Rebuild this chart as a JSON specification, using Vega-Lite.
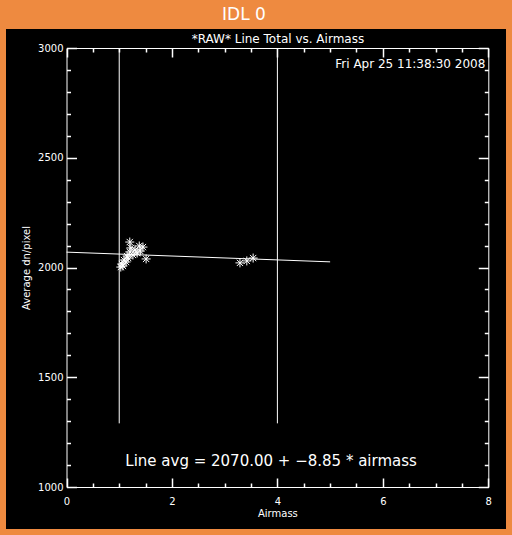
{
  "$schema": "https://vega.github.io/schema/vega-lite/v6.json",
  "width": 500,
  "height": 500,
  "autosize": "none",
  "padding": {"left": 6, "top": 29, "right": 6, "bottom": 6},
  "background": "#EE8A40",
  "config": {
    "view": {"fill": "black", "stroke": null},
    "font": "DejaVu Sans",
    "axis": {
      "grid": false,
      "domainColor": "white",
      "tickColor": "white",
      "labelColor": "white",
      "titleColor": "white",
      "domainWidth": 1,
      "tickWidth": 1.5,
      "labelFont": "DejaVu Sans",
      "titleFont": "DejaVu Sans",
      "labelFontSize": 10,
      "titleFontSize": 10,
      "titleFontWeight": "normal",
      "labelFlush": false,
      "labelOverlap": false
    }
  },
  "title": {
    "text": "IDL 0",
    "color": "white",
    "fontSize": 17,
    "fontWeight": "normal",
    "font": "DejaVu Sans",
    "anchor": "middle",
    "frame": "group",
    "offset": 5,
    "dx": -12
  },
  "datasets": {
    "fit": [
      {"airmass": 0, "dn": 2070},
      {"airmass": 5, "dn": 2025.75}
    ],
    "vlines": [
      {"airmass": 1, "lo": 1290, "hi": 3000},
      {"airmass": 4, "lo": 1290, "hi": 3000}
    ],
    "obs": [
      {"airmass": 1.2, "dn": 2116},
      {"airmass": 1.38, "dn": 2098},
      {"airmass": 1.45, "dn": 2093},
      {"airmass": 1.51, "dn": 2039},
      {"airmass": 1.3, "dn": 2080},
      {"airmass": 1.2, "dn": 2071},
      {"airmass": 1.15, "dn": 2052},
      {"airmass": 1.09, "dn": 2034},
      {"airmass": 1.05, "dn": 2016},
      {"airmass": 1.03, "dn": 2002},
      {"airmass": 1.13, "dn": 2025},
      {"airmass": 1.26, "dn": 2057},
      {"airmass": 1.34, "dn": 2066},
      {"airmass": 1.17, "dn": 2043},
      {"airmass": 1.07, "dn": 2007},
      {"airmass": 1.22, "dn": 2089},
      {"airmass": 1.4, "dn": 2075},
      {"airmass": 3.29, "dn": 2021},
      {"airmass": 3.42, "dn": 2030},
      {"airmass": 3.54, "dn": 2043}
    ],
    "notes": [
      {"airmass": 3.88, "dn": 1118, "label": "Line avg = 2070.00 + −8.85 * airmass"}
    ]
  },
  "layer": [
    {
      "data": {"name": "fit"},
      "mark": {"type": "line", "color": "white", "strokeWidth": 1},
      "encoding": {
        "x": {
          "field": "airmass", "type": "quantitative",
          "scale": {"domain": [0, 8], "range": [60.5, 482.3], "nice": false, "zero": false},
          "axis": {
            "orient": "bottom", "offset": -42, "title": "Airmass",
            "values": [0, 2, 4, 6, 8], "format": "d",
            "ticks": false, "tickSize": 0, "labelPadding": 9, "titlePadding": 2
          }
        },
        "y": {
          "field": "dn", "type": "quantitative",
          "scale": {"domain": [1000, 3000], "range": [458, 19], "nice": false, "zero": false},
          "axis": {
            "orient": "left", "offset": -60.5, "title": "Average dn/pixel",
            "values": [1000, 1500, 2000, 2500, 3000], "format": "d",
            "ticks": false, "tickSize": 0, "labelPadding": 3.5, "titlePadding": 6
          }
        }
      }
    },
    {
      "data": {"name": "vlines"},
      "mark": {"type": "rule", "color": "white", "strokeWidth": 1},
      "encoding": {
        "x": {
          "field": "airmass", "type": "quantitative",
          "axis": {
            "orient": "top", "offset": -19, "title": "*RAW* Line Total vs. Airmass",
            "titleFontSize": 12, "titlePadding": 3, "labels": false,
            "values": [0, 2, 4, 6, 8], "ticks": false, "tickSize": 0
          }
        },
        "y": {
          "field": "lo", "type": "quantitative",
          "axis": {
            "orient": "right", "offset": -17.7, "title": null, "labels": false,
            "values": [1000, 1500, 2000, 2500, 3000], "ticks": false, "tickSize": 0
          }
        },
        "y2": {"field": "hi"}
      }
    },
    {
      "data": {"name": "obs"},
      "mark": {
        "type": "point",
        "shape": "M-1,0L1,0M0,-1L0,1M-0.7,-0.7L0.7,0.7M-0.7,0.7L0.7,-0.7",
        "filled": false, "stroke": "white", "strokeWidth": 1, "opacity": 1, "size": 81
      },
      "encoding": {
        "x": {
          "field": "airmass", "type": "quantitative",
          "axis": {
            "orient": "bottom", "offset": -51, "title": null, "labels": false, "domain": false,
            "values": [0, 2, 4, 6, 8], "ticks": true, "tickSize": 9, "tickColor": "white", "tickWidth": 1.5
          }
        },
        "y": {
          "field": "dn", "type": "quantitative",
          "axis": {
            "orient": "left", "offset": -70.5, "title": null, "labels": false, "domain": false,
            "values": [1000, 1500, 2000, 2500, 3000], "ticks": true, "tickSize": 10, "tickColor": "white", "tickWidth": 1.5
          }
        }
      }
    },
    {
      "data": {"name": "notes"},
      "mark": {"type": "text", "color": "white", "fontSize": 15, "font": "DejaVu Sans", "align": "center", "baseline": "middle"},
      "encoding": {
        "x": {
          "field": "airmass", "type": "quantitative",
          "axis": {
            "orient": "top", "offset": -28, "title": null, "labels": false, "domain": false,
            "values": [0, 2, 4, 6, 8], "ticks": true, "tickSize": 9, "tickColor": "white", "tickWidth": 1.5
          }
        },
        "y": {
          "field": "dn", "type": "quantitative",
          "axis": {
            "orient": "right", "offset": -27.7, "title": null, "labels": false, "domain": false,
            "values": [1000, 1500, 2000, 2500, 3000], "ticks": true, "tickSize": 10, "tickColor": "white", "tickWidth": 1.5
          }
        },
        "text": {"field": "label"}
      }
    },
    {
      "data": {"name": "fit"},
      "mark": {"type": "point", "opacity": 0},
      "encoding": {
        "x": {
          "field": "airmass", "type": "quantitative",
          "axis": {
            "orient": "bottom", "offset": -46, "title": null, "labels": false, "domain": false,
            "values": [0.5, 1, 1.5, 2.5, 3, 3.5, 4.5, 5, 5.5, 6.5, 7, 7.5], "ticks": true, "tickSize": 4, "tickColor": "white", "tickWidth": 1.5
          }
        },
        "y": {
          "field": "dn", "type": "quantitative",
          "axis": {
            "orient": "left", "offset": -64.5, "title": null, "labels": false, "domain": false,
            "values": [1100, 1200, 1300, 1400, 1600, 1700, 1800, 1900, 2100, 2200, 2300, 2400, 2600, 2700, 2800, 2900], "ticks": true, "tickSize": 4, "tickColor": "white", "tickWidth": 1.5
          }
        }
      }
    },
    {
      "data": {"name": "vlines"},
      "mark": {"type": "point", "opacity": 0},
      "encoding": {
        "x": {
          "field": "airmass", "type": "quantitative",
          "axis": {
            "orient": "top", "offset": -23, "title": null, "labels": false, "domain": false,
            "values": [0.5, 1, 1.5, 2.5, 3, 3.5, 4.5, 5, 5.5, 6.5, 7, 7.5], "ticks": true, "tickSize": 4, "tickColor": "white", "tickWidth": 1.5
          }
        },
        "y": {
          "field": "hi", "type": "quantitative",
          "axis": {
            "orient": "right", "offset": -21.7, "title": null, "labels": false, "domain": false,
            "values": [1100, 1200, 1300, 1400, 1600, 1700, 1800, 1900, 2100, 2200, 2300, 2400, 2600, 2700, 2800, 2900], "ticks": true, "tickSize": 4, "tickColor": "white", "tickWidth": 1.5
          }
        }
      }
    },
    {
      "data": {"values": [{"stamp": "Fri Apr 25 11:38:30 2008"}]},
      "mark": {"type": "text", "color": "white", "fontSize": 12, "font": "DejaVu Sans", "align": "right", "baseline": "top", "dx": -3, "dy": 11},
      "encoding": {
        "x": {"datum": 8, "type": "quantitative", "axis": null},
        "y": {"datum": 3000, "type": "quantitative", "axis": null},
        "text": {"field": "stamp"}
      }
    }
  ],
  "resolve": {"axis": {"x": "independent", "y": "independent"}}
}
